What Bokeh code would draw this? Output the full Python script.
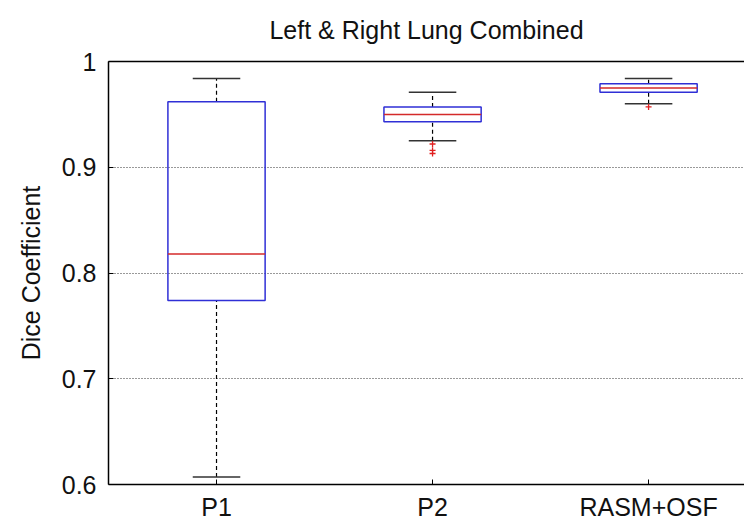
from bokeh.plotting import figure
from bokeh.models import Range1d, FixedTicker, LinearAxis, ColumnDataSource
from bokeh.embed import file_html
from bokeh.resources import INLINE

categories = ["P1", "P2", "RASM+OSF"]
positions = [1, 2, 3]
q1 = [0.774, 0.943, 0.971]
median = [0.818, 0.950, 0.975]
q3 = [0.962, 0.957, 0.979]
lower_whisker = [0.607, 0.925, 0.960]
upper_whisker = [0.984, 0.971, 0.984]
outlier_cat = [2, 2, 2, 3]
outlier_val = [0.922, 0.916, 0.913, 0.957]
y_ticks = [0.6, 0.7, 0.8, 0.9, 1.0]
y_tick_labels = ["0.6", "0.7", "0.8", "0.9", "1"]

BOX_W = 0.45
CAP_W = 0.22
FONT = "Liberation Sans"
FS = "25px"

src = ColumnDataSource(dict(
    x=positions,
    left=[p - BOX_W / 2 for p in positions],
    right=[p + BOX_W / 2 for p in positions],
    cl=[p - CAP_W / 2 for p in positions],
    cr=[p + CAP_W / 2 for p in positions],
    q1=q1, q3=q3, med=median, lw=lower_whisker, uw=upper_whisker,
))

p = figure(width=744, height=524, output_backend="svg", toolbar_location=None,
           x_range=Range1d(0.5, 3.444), y_range=Range1d(0.6, 1.0),
           min_border_left=108, min_border_right=0, min_border_top=60,
           min_border_bottom=40)
p.outline_line_color = None
p.background_fill_color = "white"
p.border_fill_color = "white"

p.title.text = "Left & Right Lung Combined"
p.title.align = "center"
p.title.vertical_align = "top"
p.title.text_font = FONT
p.title.text_font_size = FS
p.title.text_font_style = "normal"
p.title.text_color = "#111111"
p.title.standoff = 31

# whiskers (dashed)
p.segment(x0="x", y0="q3", x1="x", y1="uw", source=src, line_color="black",
          line_dash="4 3", line_width=1.2)
p.segment(x0="x", y0="lw", x1="x", y1="q1", source=src, line_color="black",
          line_dash="4 3", line_width=1.2)
# caps
p.segment(x0="cl", y0="uw", x1="cr", y1="uw", source=src, line_color="#333333", line_width=1.5)
p.segment(x0="cl", y0="lw", x1="cr", y1="lw", source=src, line_color="#333333", line_width=1.5)
# boxes
p.quad(left="left", right="right", bottom="q1", top="q3", source=src,
       fill_color=None, line_color="#2f2fd6", line_width=1.5)
# medians
p.segment(x0="left", y0="med", x1="right", y1="med", source=src,
          line_color="#d42a2a", line_width=1.5)
# outliers
p.scatter(x=outlier_cat, y=outlier_val, marker="cross", size=6,
          line_color="#e01f1f", line_width=1.3)

# axes
p.xaxis.ticker = FixedTicker(ticks=positions)
p.xaxis.major_label_overrides = {pos: c for pos, c in zip(positions, categories)}
p.yaxis.ticker = FixedTicker(ticks=y_ticks)
p.yaxis.major_label_overrides = {t: l for t, l in zip(y_ticks, y_tick_labels)}
for ax in (p.xaxis[0], p.yaxis[0]):
    ax.axis_line_color = "black"
    ax.axis_line_width = 1.5
    ax.major_tick_in = 5
    ax.major_tick_out = 0
    ax.minor_tick_line_color = None
    ax.major_tick_line_color = "black"
    ax.major_label_text_font = FONT
    ax.major_label_text_font_size = FS
    ax.major_label_text_color = "#111111"
p.xaxis.major_label_standoff = 8
p.yaxis.major_label_standoff = 12
p.yaxis.axis_label = "Dice Coefficient"
p.yaxis.axis_label_text_font = FONT
p.yaxis.axis_label_text_font_size = FS
p.yaxis.axis_label_text_font_style = "normal"
p.yaxis.axis_label_text_color = "#111111"
p.yaxis.axis_label_standoff = 14

top_axis = LinearAxis(ticker=FixedTicker(ticks=[]), major_label_text_font_size="0px",
                      major_label_standoff=0,
                      axis_line_color="black", axis_line_width=1.5,
                      major_tick_line_color=None, minor_tick_line_color=None)
p.add_layout(top_axis, "above")

p.xgrid.grid_line_color = None
p.ygrid.grid_line_color = "#333333"
p.ygrid.grid_line_dash = "1 2"
p.ygrid.grid_line_width = 1

open("out.html", "w").write(file_html(p, INLINE))
